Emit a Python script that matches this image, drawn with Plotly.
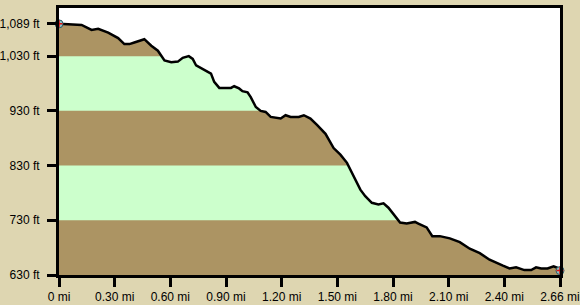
import plotly.graph_objects as go

# distance (mi) and elevation (ft)
dist = [0.000, 0.120, 0.173, 0.208, 0.261, 0.314, 0.347, 0.374, 0.400, 0.453,
        0.490, 0.525, 0.560, 0.596, 0.631, 0.657, 0.689, 0.710, 0.728, 0.771,
        0.807, 0.824, 0.851, 0.913, 0.930, 0.956, 0.974, 1.001, 1.018, 1.045,
        1.071, 1.097, 1.124, 1.177, 1.203, 1.230, 1.273, 1.300, 1.335, 1.371,
        1.415, 1.458, 1.494, 1.529, 1.564, 1.600, 1.626, 1.661, 1.696, 1.723,
        1.749, 1.776, 1.811, 1.846, 1.890, 1.908, 1.952, 1.982, 2.022, 2.075,
        2.128, 2.181, 2.234, 2.286, 2.322, 2.357, 2.392, 2.427, 2.471, 2.507,
        2.533, 2.560, 2.594, 2.626, 2.647, 2.660]
elev = [1089, 1087, 1078, 1080, 1073, 1063, 1052, 1052, 1055, 1061,
        1049, 1040, 1022, 1019, 1020, 1027, 1030, 1025, 1013, 1004,
        998, 983, 972, 972, 975, 971, 966, 964, 955, 937,
        930, 928, 919, 916, 922, 919, 919, 922, 916, 904,
        888, 862, 850, 835, 810, 786, 774, 762, 759, 761,
        753, 741, 726, 724, 727, 724, 717, 701, 701, 697,
        690, 678, 670, 658, 652, 647, 642, 644, 639, 639,
        644, 642, 642, 646, 643, 638]

y_ticks = [630, 730, 830, 930, 1030, 1089]
y_labels = ["630 ft", "730 ft", "830 ft", "930 ft", "1,030 ft", "1,089 ft"]
x_tick_count = 9
x_labels = ["0 mi", "0.30 mi", "0.60 mi", "0.90 mi", "1.20 mi", "1.50 mi",
            "1.80 mi", "2.10 mi", "2.40 mi", "2.66 mi"]
band_lo = [730, 930]
band_hi = [830, 1030]
y_min, y_max = 630, 1118

BROWN = "#ac9463"
GREEN = "#ccffcc"
PAPER = "#ded6b1"

total = dist[-1]
x_tickvals = [total * k / x_tick_count for k in range(x_tick_count + 1)]

fig = go.Figure()
# white sky above the profile
fig.add_trace(go.Scatter(x=dist, y=elev, mode="lines", line=dict(width=0),
                         hoverinfo="skip", showlegend=False))
fig.add_trace(go.Scatter(x=dist, y=[y_max] * len(dist), mode="lines", line=dict(width=0),
                         fill="tonexty", fillcolor="white", hoverinfo="skip", showlegend=False))
# profile line
fig.add_trace(go.Scatter(x=dist, y=elev, mode="lines",
                         line=dict(color="black", width=2.5), showlegend=False))
# endpoint markers
ends_x = [dist[0], dist[-1]]
ends_y = [elev[0], elev[-1]]
fig.add_trace(go.Scatter(x=ends_x, y=ends_y, mode="markers", cliponaxis=False,
                         marker=dict(symbol="circle", size=8, color="#8fc4c8",
                                     line=dict(color="#2a5a66", width=1)),
                         showlegend=False))
fig.add_trace(go.Scatter(x=ends_x, y=ends_y, mode="markers", cliponaxis=False,
                         marker=dict(symbol="cross-thin", size=5,
                                     line=dict(color="#e01010", width=1.5)),
                         showlegend=False))

for lo, hi in zip(band_lo, band_hi):
    fig.add_shape(type="rect", xref="x", yref="y", x0=0, x1=total, y0=lo, y1=hi,
                  fillcolor=GREEN, line=dict(width=0), layer="below")

axis_common = dict(showline=True, linecolor="black", linewidth=3, mirror=True,
                   ticks="outside", ticklen=9, tickwidth=3, tickcolor="black",
                   showgrid=False, zeroline=False, automargin=False,
                   tickfont=dict(family="Liberation Sans", size=12, color="black"))

fig.update_layout(
    width=580, height=305,
    margin=dict(l=59, r=20, t=8, b=30),
    paper_bgcolor=PAPER, plot_bgcolor=BROWN,
    xaxis=dict(range=[0, total], tickvals=x_tickvals, ticktext=x_labels, **axis_common),
    yaxis=dict(range=[y_min, y_max], tickvals=y_ticks, ticktext=y_labels,
               ticklabelstandoff=5, **axis_common),
    showlegend=False,
)

fig.write_html("out.html", config={"displayModeBar": False})
